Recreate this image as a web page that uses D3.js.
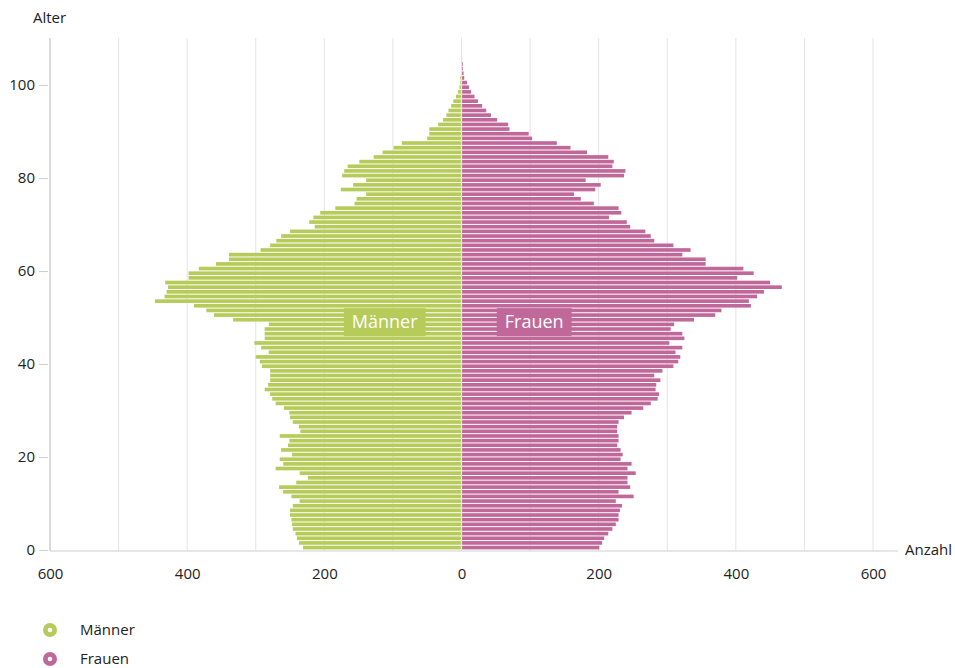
<!DOCTYPE html>
<html>
<head>
<meta charset="utf-8">
<script src="https://cdn.jsdelivr.net/npm/d3@7"></script>
<style>
  html, body { margin: 0; padding: 0; background: #fff; }
  svg { display: block; font-family: "Open Sans", "Noto Sans", sans-serif; }
</style>
</head>
<body>
<svg id="chart" width="955" height="668"></svg>
<script>
(function() {

  // Einwohner je Altersjahr, Alter 0 bis 105
  var maenner = [231, 237, 240, 242, 246, 247, 248, 250, 250, 246,
                 236, 248, 260, 266, 241, 224, 236, 271, 260, 265,
                 247, 263, 253, 251, 265, 235, 237, 246, 250, 251,
                 259, 271, 276, 279, 287, 282, 279, 279, 279, 291,
                 294, 300, 281, 292, 302, 287, 287, 287, 281, 333,
                 361, 372, 390, 447, 433, 430, 428, 432, 398, 398,
                 383, 358, 339, 339, 293, 279, 270, 263, 250, 214,
                 222, 216, 206, 184, 156, 153, 139, 176, 158, 139,
                 174, 171, 166, 149, 128, 115, 99, 87, 50, 47,
                 47, 34, 27, 22, 19, 15, 12, 8, 5, 3,
                 2, 2, 1, 0, 0, 0];
  var frauen = [201, 205, 208, 214, 220, 225, 229, 229, 231, 234,
                225, 251, 229, 246, 242, 242, 254, 242, 248, 232,
                235, 232, 227, 229, 229, 227, 227, 229, 237, 248,
                265, 276, 286, 288, 283, 284, 290, 281, 293, 309,
                316, 319, 312, 322, 303, 325, 322, 305, 310, 339,
                370, 379, 422, 419, 431, 441, 467, 450, 402, 426,
                411, 356, 356, 322, 334, 309, 281, 276, 268, 246,
                241, 215, 233, 229, 193, 174, 164, 195, 203, 181,
                237, 239, 220, 222, 214, 183, 159, 139, 103, 98,
                70, 68, 52, 43, 36, 30, 24, 19, 14, 11,
                8, 4, 3, 2, 2, 1];
  var alter = maenner.map(function(d, i) { return i; });

  var yTicks = [0, 20, 40, 60, 80, 100];
  var xTicks = [-600, -400, -200, 0, 200, 400, 600];
  var xGrid = [-600, -500, -400, -300, -200, -100, 0, 100, 200, 300, 400, 500, 600];

  var colM = "#b6cb5a";
  var colF = "#c1689b";

  var svg = d3.select("#chart");

  var x = d3.scaleLinear().domain([-600, 600]).range([50, 873]);
  var y = d3.scaleLinear().domain([0, 100]).range([550, 85]);

  var top = 38, bottom = 551;

  // Gitterlinien
  svg.append("g").selectAll("line")
    .data(xGrid)
    .enter().append("line")
    .attr("x1", function(d) { return x(d); })
    .attr("x2", function(d) { return x(d); })
    .attr("y1", top)
    .attr("y2", bottom)
    .style("stroke", function(d) { return d == -600 ? "#cfcfcf" : "#e4e4e4"; })
    .style("stroke-width", 1);

  // Balken
  var bars = svg.append("g");
  bars.selectAll("rect.m")
    .data(alter)
    .enter().append("rect")
    .attr("class", "m")
    .attr("x", function(a) { return x(-maenner[a]); })
    .attr("width", function(a) { return Math.max(0, x(0) - x(-maenner[a]) - 0.6); })
    .attr("y", function(a) { return y(a + 1) + 0.4; })
    .attr("height", function(a) { return y(a) - y(a + 1) - 1.0; })
    .style("fill", colM);

  bars.selectAll("rect.f")
    .data(alter)
    .enter().append("rect")
    .attr("class", "f")
    .attr("x", x(0) + 0.6)
    .attr("width", function(a) { return Math.max(0, x(frauen[a]) - x(0) - 0.6); })
    .attr("y", function(a) { return y(a + 1) + 0.4; })
    .attr("height", function(a) { return y(a) - y(a + 1) - 1.0; })
    .style("fill", colF);

  // y-Achse
  svg.append("line")
    .attr("x1", 50).attr("x2", 50)
    .attr("y1", top).attr("y2", bottom)
    .style("stroke", "#cfcfcf");

  var yAxis = svg.append("g")
    .attr("transform", "translate(48,0)")
    .call(d3.axisLeft(y).tickValues(yTicks).tickSize(9).tickPadding(4));
  yAxis.select(".domain").remove();
  yAxis.selectAll("line").style("stroke", "#cfcfcf");
  yAxis.selectAll("text")
    .style("font-family", "'Open Sans', sans-serif")
    .style("font-size", "15px")
    .style("fill", "#222");

  // x-Achse
  svg.append("line")
    .attr("x1", 50).attr("x2", 898)
    .attr("y1", bottom).attr("y2", bottom)
    .style("stroke", "#cfcfcf");

  var xAxis = svg.append("g")
    .attr("transform", "translate(0," + bottom + ")")
    .call(d3.axisBottom(x).tickValues(xTicks).tickSize(0).tickPadding(17)
      .tickFormat(function(d) { return Math.abs(d); }));
  xAxis.select(".domain").remove();
  xAxis.selectAll("text")
    .style("font-family", "'Open Sans', sans-serif")
    .style("font-size", "15px")
    .style("fill", "#222");

  svg.append("text")
    .attr("x", 33).attr("y", 23)
    .style("font-size", "15px")
    .style("fill", "#222")
    .text("Alter");

  svg.append("text")
    .attr("x", 905).attr("y", 555)
    .style("font-size", "15px")
    .style("fill", "#222")
    .text("Anzahl");

  // Beschriftungen in den Balken
  var labels = [
    {text: "Männer", wert: -112, color: colM},
    {text: "Frauen", wert: 106, color: colF}
  ];
  labels.forEach(function(l) {
    var g = svg.append("g")
      .attr("transform", "translate(" + x(l.wert) + "," + y(49) + ")");
    var t = g.append("text")
      .attr("text-anchor", "middle")
      .attr("dy", "0.35em")
      .style("font-size", "18px")
      .style("fill", "#fff")
      .text(l.text);
    var w = t.node().getComputedTextLength();
    g.insert("rect", "text")
      .attr("x", -w / 2 - 8)
      .attr("y", -14)
      .attr("width", w + 16)
      .attr("height", 28)
      .style("fill", l.color);
  });

  // Legende
  var legende = [
    {text: "Männer", color: colM},
    {text: "Frauen", color: colF}
  ];
  var lg = svg.append("g").selectAll("g")
    .data(legende)
    .enter().append("g")
    .attr("transform", function(d, i) { return "translate(50," + (630 + i * 29) + ")"; });
  lg.append("circle").attr("r", 7).style("fill", function(d) { return d.color; });
  lg.append("circle").attr("r", 2.3).style("fill", "#fff");
  lg.append("text")
    .attr("x", 30)
    .attr("dy", "0.35em")
    .style("font-size", "15px")
    .style("fill", "#222")
    .text(function(d) { return d.text; });

})();
</script>
</body>
</html>
